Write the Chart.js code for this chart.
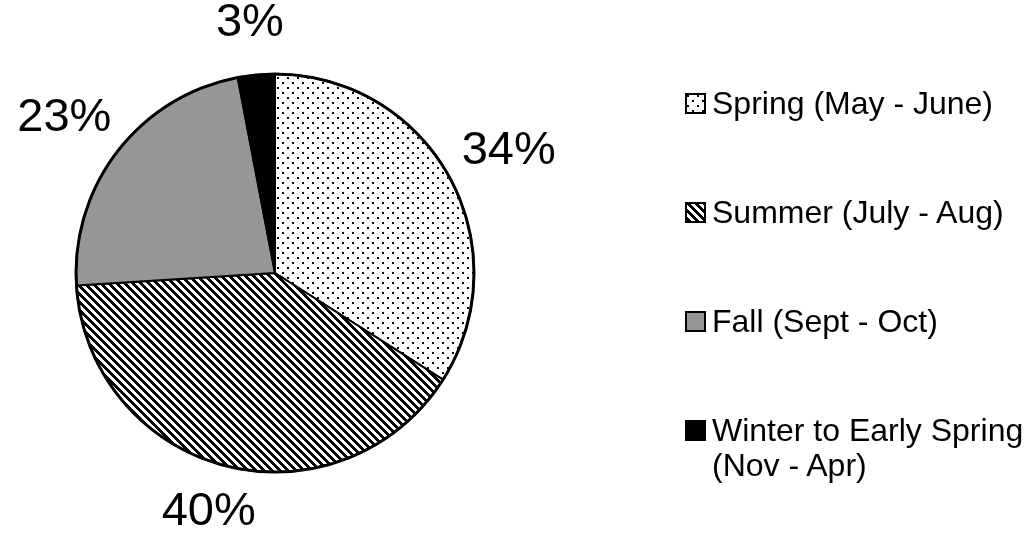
<!DOCTYPE html>
<html>
<head>
<meta charset="utf-8">
<script src="https://cdn.jsdelivr.net/npm/chart.js@4.4.0/dist/chart.umd.min.js"></script>
<style>
  html, body { margin: 0; padding: 0; background: #fff; }
  #wrap { position: relative; width: 1031px; height: 533px; }
  #legend { position: absolute; left: 685px; top: 0; font-family: "Liberation Sans", Arial, sans-serif; font-size: 32px; color: #000; }
  .item { position: absolute; left: 0; white-space: nowrap; display: flex; align-items: flex-start; }
  .item canvas { margin-top: 7px; margin-right: 6px; }
  .item span { line-height: 35px; }
</style>
</head>
<body>
<div id="wrap">
  <canvas id="pie" width="1031" height="533"></canvas>
  <div id="legend"></div>
</div>
<script>
// Chart data
const seasons = ['Spring (May - June)', 'Summer (July - Aug)', 'Fall (Sept - Oct)', ['Winter to Early Spring', '(Nov - Apr)']];
const shares = [34, 40, 23, 3];

// Fill patterns (Excel style)
function makeDots() {
  const c = document.createElement('canvas');
  c.width = 10; c.height = 10;
  const g = c.getContext('2d');
  g.fillStyle = '#fff';
  g.fillRect(0, 0, 10, 10);
  g.fillStyle = '#000';
  g.fillRect(2, 2, 2, 2);
  g.fillRect(7, 7, 2, 2);
  return c;
}

function makeHatch() {
  const c = document.createElement('canvas');
  c.width = 8; c.height = 8;
  const g = c.getContext('2d');
  g.fillStyle = '#fff';
  g.fillRect(0, 0, 8, 8);
  g.fillStyle = '#000';
  for (let y = 0; y < 8; y++) {
    for (let x = 0; x < 8; x++) {
      if ((x - y + 8) % 8 < 4) g.fillRect(x, y, 1, 1);
    }
  }
  return c;
}

const ctx = document.getElementById('pie').getContext('2d');
const fills = [
  ctx.createPattern(makeDots(), 'repeat'),
  ctx.createPattern(makeHatch(), 'repeat'),
  '#969696',
  '#000000'
];

// Percentage labels outside each slice, plus the heavier outer rim
const total = shares.reduce((a, b) => a + b, 0);
const pctLabels = {
  id: 'pctLabels',
  afterDatasetsDraw(chart) {
    const c = chart.ctx;
    const meta = chart.getDatasetMeta(0);
    c.save();
    const first = meta.data[0].getProps(['x', 'y', 'outerRadius'], true);
    c.beginPath();
    c.arc(first.x, first.y, first.outerRadius, 0, Math.PI * 2);
    c.lineWidth = 3;
    c.strokeStyle = '#000';
    c.stroke();

    c.font = '47px "Liberation Sans", Arial, sans-serif';
    c.fillStyle = '#000';
    c.textAlign = 'center';
    c.textBaseline = 'middle';
    meta.data.forEach((arc, i) => {
      const p = arc.getProps(['x', 'y', 'startAngle', 'endAngle', 'outerRadius'], true);
      const mid = (p.startAngle + p.endAngle) / 2;
      const lx = p.x + Math.cos(mid) * p.outerRadius * 1.34;
      const ly = p.y + Math.sin(mid) * p.outerRadius * 1.25 - 2;
      c.fillText(Math.round(shares[i] / total * 100) + '%', lx, ly);
    });
    c.restore();
  }
};

new Chart(ctx, {
  type: 'pie',
  data: {
    labels: seasons,
    datasets: [{
      data: shares,
      backgroundColor: fills,
      borderColor: '#000',
      borderWidth: 2
    }]
  },
  options: {
    responsive: false,
    animation: false,
    layout: { padding: { left: 75, top: 73, right: 556, bottom: 60 } },
    plugins: {
      legend: { display: false },
      tooltip: { enabled: false }
    }
  },
  plugins: [pctLabels]
});

// HTML legend
const legend = document.getElementById('legend');
const rowTop = 103 - 17;
const rowGap = 109;
seasons.forEach((label, i) => {
  const item = document.createElement('div');
  item.className = 'item';
  item.style.top = (rowTop + i * rowGap) + 'px';

  const sw = document.createElement('canvas');
  sw.width = 21; sw.height = 21;
  const g = sw.getContext('2d');
  g.fillStyle = i === 0 ? g.createPattern(makeDots(), 'repeat')
              : i === 1 ? g.createPattern(makeHatch(), 'repeat')
              : fills[i];
  g.fillRect(0, 0, 21, 21);
  g.strokeStyle = '#000';
  g.lineWidth = 2;
  g.strokeRect(1, 1, 19, 19);

  const text = document.createElement('span');
  text.innerHTML = [].concat(label).join('<br>');

  item.appendChild(sw);
  item.appendChild(text);
  legend.appendChild(item);
});
</script>
</body>
</html>
